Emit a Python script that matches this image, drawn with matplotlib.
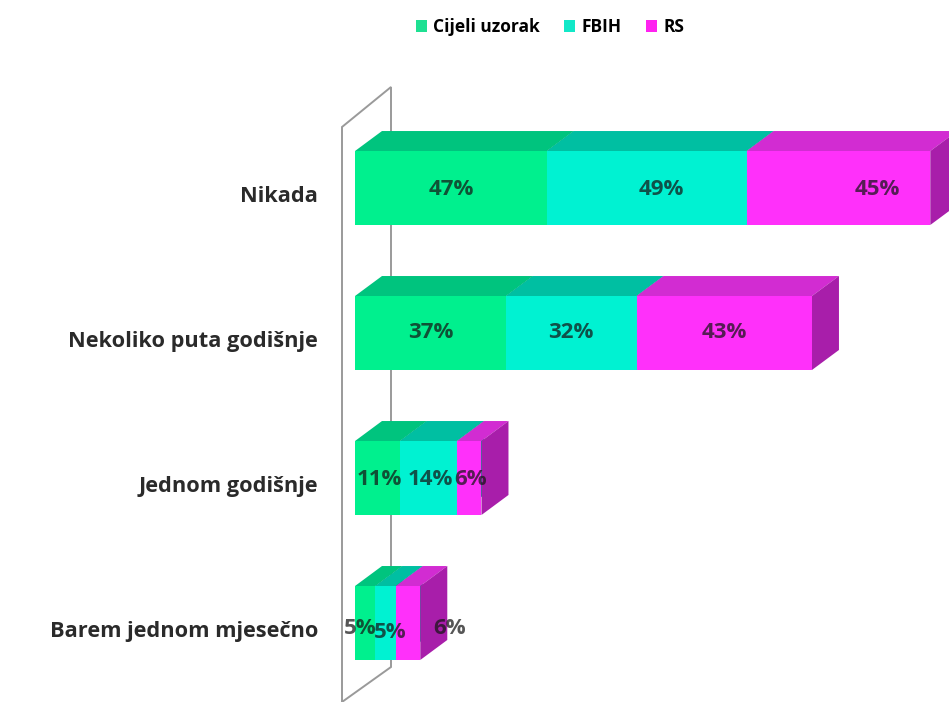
import numpy as np
import matplotlib
matplotlib.use("Agg")
import matplotlib.pyplot as plt
from matplotlib.patches import Polygon, Patch
from matplotlib.transforms import ScaledTranslation

# % data

categories = ["Nikada", "Nekoliko puta godišnje", "Jednom godišnje", "Barem jednom mjesečno"]
series = ["Cijeli uzorak", "FBIH", "RS"]
cijeli = [47, 37, 11, 5]
fbih = [49, 32, 14, 5]
rs = [45, 43, 6, 6]

front_cols = ["#00F08E", "#00F2D2", "#FF30FA"]
top_cols = ["#00C47E", "#00BFA2", "#D22CD2"]
side_cols = ["#00A86C", "#00A88E", "#A81EAA"]

# label nudges in pixels (x, y), per category and series
label_dx = [[0, 15, 39], [0, 0, 0], [2, 2, 1], [-5, 5, 42]]
label_dy = [[2, 2, 2], [0, 0, 0], [2, 2, 2], [6, 10, 6]]

# %% figure

fig = plt.figure(figsize=(9.49, 7.02), dpi=100)
ax = fig.add_axes([355 / 949, 0, 594 / 949, 1])
px = 4.08       # pixels per percent
rowpx = 145.0   # pixels per category
ax.set_xlim(0, 594 / px)
ax.set_ylim((702 - 188) / rowpx, -188 / rowpx)
ax.axis("off")

h = 0.51                    # front face height
ddx = 27 / px               # depth offset in x
ddy = -20 / rowpx           # depth offset in y

vals = np.array([cijeli, fbih, rs], dtype=float)
y = np.arange(len(categories))

# back wall
wx0, wx1 = -13 / px, 36 / px
wall = [(wx0, (127 - 188) / rowpx), (wx1, (87 - 188) / rowpx),
        (wx1, (667 - 188) / rowpx), (wx0, (702 - 188) / rowpx)]
ax.add_patch(Polygon(wall, closed=True, fill=False, ec="#9a9a9a", lw=1.4,
                     clip_on=False, zorder=1))

z = 2
for i in range(len(categories)):
    left = 0.0
    for s in range(len(series)):
        w = vals[s, i]
        top = y[i] - h / 2
        bot = y[i] + h / 2
        ax.barh(y[i], w, left=left, height=h, color=front_cols[s], lw=0, zorder=z + 1)
        ax.add_patch(Polygon([(left, top), (left + ddx, top + ddy),
                              (left + w + ddx, top + ddy), (left + w, top)],
                             closed=True, fc=top_cols[s], ec="none", zorder=z))
        ax.add_patch(Polygon([(left + w, top), (left + w + ddx, top + ddy),
                              (left + w + ddx, bot + ddy), (left + w, bot)],
                             closed=True, fc=side_cols[s], ec="none", zorder=z))
        z += 2
        left += w

# value labels
for i in range(len(categories)):
    left = 0.0
    for s in range(len(series)):
        w = vals[s, i]
        t = ax.text(left + w / 2, y[i], "{:.0f}%".format(w), ha="center", va="center",
                    fontsize=16, fontweight="bold", family="Open Sans",
                    color="#151515", alpha=0.72, zorder=100)
        t.set_transform(ax.transData + ScaledTranslation(label_dx[i][s] / 100,
                                                         -label_dy[i][s] / 100,
                                                         fig.dpi_scale_trans))
        left += w

# category labels
for i, cat in enumerate(categories):
    ax.text(-37 / px, y[i], cat, ha="right", va="center", fontsize=15.7,
            family="Open Sans", fontweight="bold", color="#2a2a2a",
            transform=ax.transData + ScaledTranslation(0, -9 / 100, fig.dpi_scale_trans))

handles = [Patch(fc=c, ec="none") for c in ["#1EE092", "#12E8C8", "#FF22F0"]]
fig.legend(handles, series, loc="center", bbox_to_anchor=(550 / 949, 1 - 27 / 702),
           ncol=3, frameon=False, handlelength=0.65, handleheight=0.65,
           handletextpad=0.35, columnspacing=1.4,
           prop={"family": "Open Sans", "weight": "bold", "size": 12.5})

fig.savefig("out.png", dpi=100)
